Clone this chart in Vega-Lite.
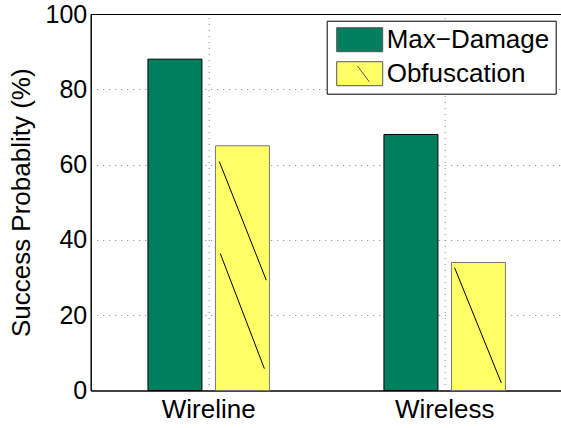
{
  "$schema": "https://vega.github.io/schema/vega-lite/v6.json",
  "width": 472,
  "height": 376.5,
  "autosize": {"type": "none"},
  "padding": {"left": 90.7, "top": 14, "right": 0, "bottom": 38},
  "background": "white",
  "config": {
    "font": "Liberation Sans",
    "view": {"stroke": "black", "strokeWidth": 1},
    "axis": {"labelColor": "black", "titleColor": "black", "labelFont": "Liberation Sans", "titleFont": "Liberation Sans"}
  },
  "datasets": {
    "bars": [
      {"group": "Wireline", "series": "Max−Damage", "value": 88},
      {"group": "Wireline", "series": "Obfuscation", "value": 65},
      {"group": "Wireless", "series": "Max−Damage", "value": 68},
      {"group": "Wireless", "series": "Obfuscation", "value": 34}
    ],
    "hatch": [
      {"xa": 1.045, "xb": 1.244, "ya": 60.8, "yb": 29.3},
      {"xa": 1.049, "xb": 1.236, "ya": 36.4, "yb": 5.8},
      {"xa": 2.042, "xb": 2.240, "ya": 32.6, "yb": 2.0}
    ]
  },
  "layer": [
    {
      "data": {"name": "bars"},
      "mark": {"type": "bar", "strokeWidth": 1},
      "encoding": {
        "x": {
          "field": "group", "type": "nominal", "sort": ["Wireline", "Wireless"],
          "scale": {"paddingInner": 0, "paddingOuter": 0},
          "axis": {"title": null, "labelAngle": 0, "labelFontSize": 26, "labelPadding": 6, "ticks": false, "domain": true, "domainColor": "black", "grid": false, "orient": "bottom"}
        },
        "xOffset": {
          "field": "series", "type": "nominal", "sort": ["Max−Damage", "Obfuscation"],
          "scale": {"paddingInner": 0.2, "paddingOuter": 0.848}
        },
        "y": {
          "field": "value", "type": "quantitative",
          "scale": {"domain": [0, 100], "nice": false},
          "axis": {
            "title": "Success Probablity (%)", "titleFontSize": 26, "titleFontWeight": "normal", "titlePadding": 10,
            "values": [0, 20, 40, 60, 80, 100], "labelFontSize": 25, "labelPadding": 4, "ticks": false,
            "domain": true, "domainColor": "black",
            "grid": true, "gridColor": "#808080", "gridDash": [1, 5],
            "gridOpacity": {"condition": {"test": "datum.value == 0 || datum.value == 100", "value": 0}, "value": 1}
          }
        },
        "color": {
          "field": "series", "type": "nominal", "sort": ["Max−Damage", "Obfuscation"],
          "scale": {"domain": ["Max−Damage", "Obfuscation"], "range": ["#007F5F", "#FFFF66"]},
          "legend": {
            "title": null, "orient": "none", "legendX": 236, "legendY": 6.7,
            "strokeColor": "black", "fillColor": "white", "padding": 6,
            "symbolOffset": 14, "symbolSize": 576, "symbolStrokeWidth": 1, "symbolStrokeColor": "#555555",
            "labelFontSize": 26, "labelColor": "black", "labelOffset": 14, "labelLimit": 400, "rowPadding": 6,
            "encode": {
              "symbols": {
                "update": {
                  "shape": [
                    {"test": "datum.value === 'Obfuscation'", "value": "M-1.9167,-1H1.9167V1H-1.9167ZM-0.18,-0.63L0.8,0.67"},
                    {"value": "M-1.9167,-1H1.9167V1H-1.9167Z"}
                  ],
                  "stroke": {"value": "#555555"}
                }
              }
            }
          }
        },
        "stroke": {
          "condition": {"test": "datum.series === 'Obfuscation'", "value": "#777777"},
          "value": "black"
        }
      }
    },
    {
      "data": {"name": "hatch"},
      "mark": {"type": "rule", "color": "black", "strokeWidth": 1},
      "encoding": {
        "x": {
          "field": "xa", "type": "quantitative",
          "scale": {"domain": [0.5, 2.5], "nice": false, "zero": false},
          "axis": {"orient": "top", "values": [1, 2], "labels": false, "ticks": false, "domain": false, "title": null,
                   "grid": true, "gridColor": "#808080", "gridDash": [1, 5]}
        },
        "x2": {"field": "xb"},
        "y": {"field": "ya", "type": "quantitative"},
        "y2": {"field": "yb"}
      }
    }
  ],
  "resolve": {"scale": {"x": "independent"}, "axis": {"x": "independent"}}
}
